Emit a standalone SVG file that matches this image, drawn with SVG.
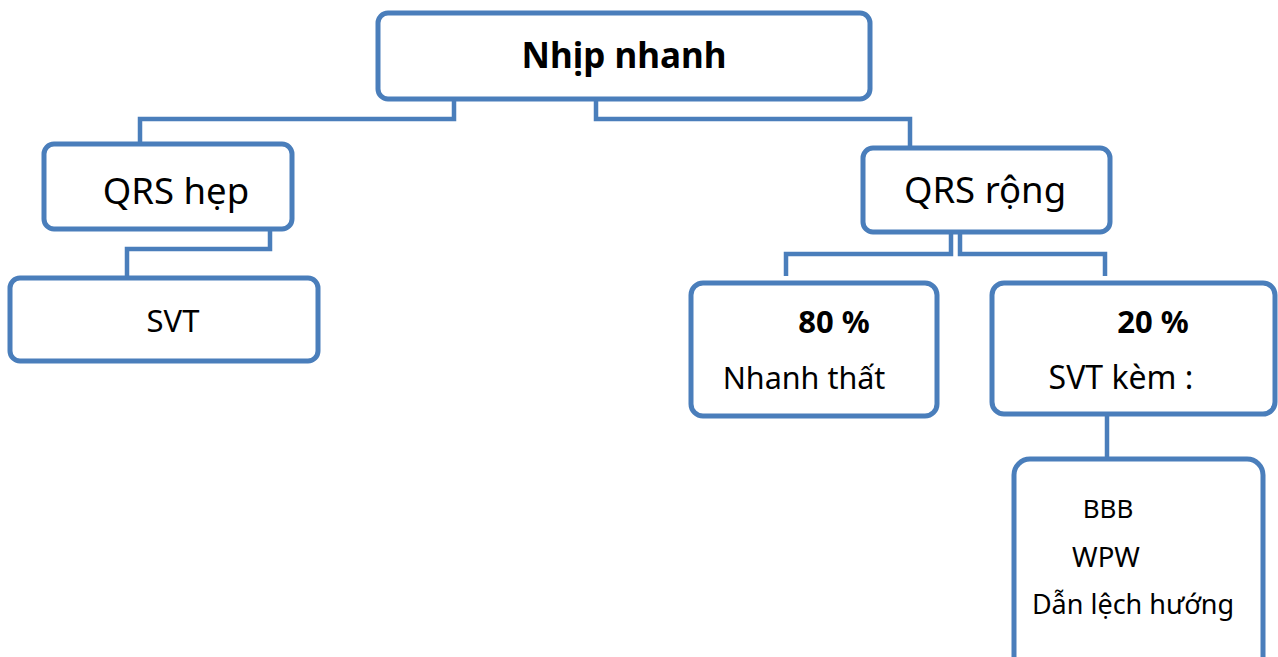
<svg xmlns="http://www.w3.org/2000/svg" width="1278" height="657" viewBox="0 0 1278 657">
<style>
.box{fill:#fff;stroke:#4a7ebb;stroke-width:5}
.con{fill:none;stroke:#4a7ebb;stroke-width:4.5}
text{font-family:"Noto Sans","Open Sans","DejaVu Sans",sans-serif;fill:#000;text-anchor:middle}
.b{font-weight:bold}
</style>
<rect width="1278" height="657" fill="#fff"/>
<g id="connectors">
<path class="con" d="M454 98 V119 H140 V145"/>
<path class="con" d="M596 98 V119 H910 V150"/>
<path class="con" d="M270 229 V249 H127 V280"/>
<path class="con" d="M951 232 V254 H786 V276"/>
<path class="con" d="M960 232 V254 H1105 V276"/>
<path class="con" d="M1107 414 V459"/>
</g>
<g id="n-nhip-nhanh">
<rect class="box" x="378" y="13" width="492" height="86" rx="10"/>
<text class="b" x="624" y="68" font-size="35">Nhịp nhanh</text>
</g>
<g id="n-qrs-hep">
<rect class="box" x="44" y="144" width="248" height="85" rx="10"/>
<text x="176" y="204" font-size="36.5">QRS hẹp</text>
</g>
<g id="n-svt">
<rect class="box" x="10" y="278" width="308" height="83" rx="10"/>
<text x="173" y="332" font-size="31">SVT</text>
</g>
<g id="n-qrs-rong">
<rect class="box" x="863" y="148" width="247" height="84" rx="10"/>
<text x="985" y="203" font-size="36.5">QRS rộng</text>
</g>
<g id="n-80">
<rect class="box" x="691" y="283" width="246" height="133" rx="12"/>
<text class="b" x="834" y="333" font-size="31">80 %</text>
<text x="804" y="389" font-size="30.5">Nhanh thất</text>
</g>
<g id="n-20">
<rect class="box" x="992" y="283" width="283" height="131" rx="12"/>
<text class="b" x="1153" y="333" font-size="31">20 %</text>
<text x="1121" y="389" font-size="32">SVT kèm :</text>
</g>
<g id="n-svt-kem">
<rect class="box" x="1014" y="459" width="249" height="215" rx="16"/>
<text x="1108" y="518" font-size="26">BBB</text>
<text x="1106" y="567" font-size="27.5">WPW</text>
<text x="1133" y="614" font-size="27">Dẫn lệch hướng</text>
</g>
</svg>
